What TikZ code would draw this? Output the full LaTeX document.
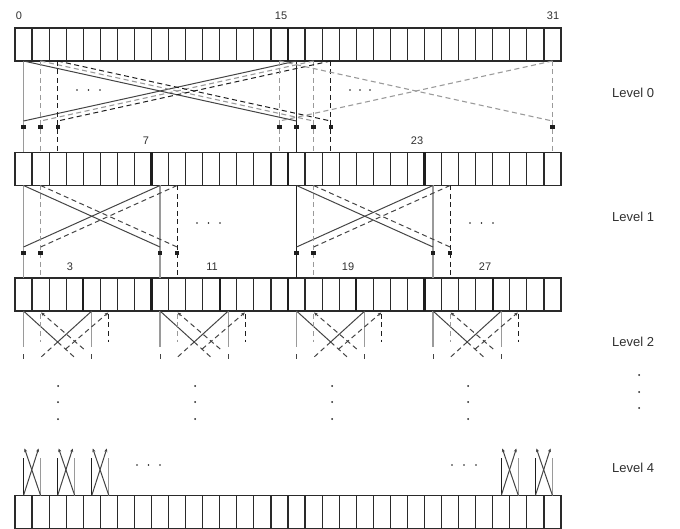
\documentclass[tikz,border=0pt]{standalone}
\usepackage{fontspec}
\setmainfont{Liberation Sans}
\usetikzlibrary{arrows.meta,calc}
\definecolor{boxc}{HTML}{2A2A2A}
\definecolor{lg}{HTML}{9A9A9A}
\definecolor{dk}{HTML}{1E1E1E}
\definecolor{md}{HTML}{444444}
\definecolor{txt}{HTML}{303030}
\begin{document}
\begin{tikzpicture}[x=1pt,y=-1pt,
  cell/.style={draw=boxc,line width=1.2pt,minimum width=17.0625pt,minimum height=33pt,inner sep=0pt,outer sep=0pt},
  sepline/.style={draw=dk,line width=2.4pt},
  sg/.style={draw=lg,line width=1.1pt},
  sb/.style={draw=dk,line width=1.1pt},
  sd/.style={draw=md,line width=1pt},
  gd/.style={draw=lg,line width=1.1pt,dash pattern=on 5pt off 3.5pt},
  bd/.style={draw=dk,line width=1pt,dash pattern=on 5pt off 3.5pt},
  dd/.style={draw=md,line width=1pt,dash pattern=on 5pt off 3.5pt},
  sq/.style={fill=dk,rectangle,minimum size=4.2pt,inner sep=0pt},
  tipa/.style={-{Stealth[length=3.6pt,width=3.2pt]}},
  num/.style={text=txt,font=\fontsize{11}{13}\selectfont,inner sep=0pt},
  lvl/.style={text=txt,font=\fontsize{13}{15}\selectfont,inner sep=0pt,anchor=west},
  dot/.style={fill=dk}
]
\useasboundingbox (0,0) rectangle (680,529);

% ---------- arrays ----------
\foreach \r/\yy in {1/44.5,2/169,3/294.5,4/512}{
  \foreach \i in {0,...,31}{
    \node[cell] (r\r-\i) at ({15+(\i+0.5)*17.0625},\yy) {};
  }
}
\draw[sepline] (r1-15.north east) -- (r1-15.south east);
\foreach \i in {7,15,23}{\draw[sepline] (r2-\i.north east) -- (r2-\i.south east);}
\foreach \i in {3,7,11,15,19,23,27}{\draw[sepline] (r3-\i.north east) -- (r3-\i.south east);}

% ---------- labels ----------
\node[num] (n0)  at (19,16) {0};
\node[num] (n15) at (281,16) {15};
\node[num] (n31) at (553,16) {31};
\node[num] (n7)  at (146,141) {7};
\node[num] (n23) at (417,141) {23};
\node[num] (n3)  at (70,267) {3};
\node[num] (n11) at (212,267) {11};
\node[num] (n19) at (348,267) {19};
\node[num] (n27) at (485,267) {27};
\node[lvl] (lv0) at (612,93) {Level 0};
\node[lvl] (lv1) at (612,217) {Level 1};
\node[lvl] (lv2) at (612,342) {Level 2};
\node[lvl] (lv4) at (612,468) {Level 4};

% helper y levels
\coordinate (E0) at (0,121);
\coordinate (S0) at (0,127);
\coordinate (E1) at (0,247);
\coordinate (S1) at (0,253);

% ---------- level 0 ----------
\draw[sg] (r1-0.south) -- (r2-0.north);
\draw[sb] (r1-16.south) -- (r2-16.north);
\draw[sd] (r1-0.south) -- (r1-16.south |- E0);
\draw[sd] (r1-16.south) -- (r1-0.south |- E0);
\draw[gd] (r1-1.south) -- (r2-1.north);
\draw[gd] (r1-17.south) -- (r2-17.north);
\draw[gd] (r1-1.south) -- (r1-17.south |- E0);
\draw[gd] (r1-17.south) -- (r1-1.south |- E0);
\draw[bd] (r1-2.south) -- (r2-2.north);
\draw[bd] (r1-18.south) -- (r2-18.north);
\draw[bd] (r1-2.south) -- (r1-18.south |- E0);
\draw[bd] (r1-18.south) -- (r1-2.south |- E0);
\draw[gd] (r1-15.south) -- (r2-15.north);
\draw[gd] (r1-31.south) -- (r2-31.north);
\draw[gd] (r1-15.south) -- (r1-31.south |- E0);
\draw[gd] (r1-31.south) -- (r1-15.south |- E0);
\foreach \i in {0,1,2,15,16,17,18,31}{\node[sq] (q0-\i) at (r1-\i.south |- S0) {};}
\foreach \x in {77,88.5,100,350,360,370}{\fill[dot] (\x,90) circle (0.9pt);}

% ---------- level 1 ----------
\draw[sg] (r2-0.south) -- (r3-0.north);
\draw[sg] (r2-8.south) -- (r3-8.north);
\draw[sd] (r2-0.south) -- (r2-8.south |- E1);
\draw[sd] (r2-8.south) -- (r2-0.south |- E1);
\draw[gd] (r2-1.south) -- (r3-1.north);
\draw[bd] (r2-9.south) -- (r3-9.north);
\draw[dd] (r2-1.south) -- (r2-9.south |- E1);
\draw[dd] (r2-9.south) -- (r2-1.south |- E1);
\draw[sb] (r2-16.south) -- (r3-16.north);
\draw[sg] (r2-24.south) -- (r3-24.north);
\draw[sd] (r2-16.south) -- (r2-24.south |- E1);
\draw[sd] (r2-24.south) -- (r2-16.south |- E1);
\draw[gd] (r2-17.south) -- (r3-17.north);
\draw[bd] (r2-25.south) -- (r3-25.north);
\draw[dd] (r2-17.south) -- (r2-25.south |- E1);
\draw[dd] (r2-25.south) -- (r2-17.south |- E1);
\foreach \i in {0,1,8,9,16,17,24,25}{\node[sq] (q1-\i) at (r2-\i.south |- S1) {};}
\foreach \x in {197,208.5,220,470,481.5,493}{\fill[dot] (\x,223) circle (0.9pt);}

% ---------- level 2 ----------
\foreach \g in {0,8,16,24}{
  \pgfmathtruncatemacro\ga{\g+1}
  \pgfmathtruncatemacro\gb{\g+4}
  \pgfmathtruncatemacro\gc{\g+5}
  \coordinate (c\g) at ($($(r3-\g.south)!0.5!(r3-\gb.south)$)+(0,31)$);
  \coordinate (d\g) at ($($(r3-\ga.south)!0.5!(r3-\gc.south)$)+(0,30)$);
  \draw[sg] (r3-\g.south) -- ++(0,36);
  \draw[sg] (r3-\gb.south) -- ++(0,36);
  \draw[dd] ($(r3-\g.south)+(0,43)$) -- ++(0,8);
  \draw[dd] ($(r3-\gb.south)+(0,43)$) -- ++(0,8);
  \draw[sd] (r3-\g.south) -- (c\g) -- (r3-\gb.south);
  \draw[dd] (c\g) -- ++(16.5,15);
  \draw[dd] (c\g) -- ++(-16.5,15);
  \draw[gd] ($(r3-\ga.south)+(0,3)$) -- ++(0,28);
  \draw[bd] ($(r3-\gc.south)+(0,3)$) -- ++(0,28);
  \draw[dd,tipa] ($(d\g)+(9,8)$) -- ($(r3-\ga.south)+(0.5,1.5)$);
  \draw[dd,tipa] ($(d\g)+(-9,8)$) -- ($(r3-\gc.south)+(-0.5,1.5)$);
}

% vertical ellipses
\foreach \x in {58,195,332,468}{
  \foreach \y in {386,402,419}{\fill[dot] (\x,\y) circle (1pt);}
}
\foreach \y in {375,392,408}{\fill[dot] (639,\y) circle (1pt);}

% ---------- level 4 ----------
\foreach \a in {0,2,4,28,30}{
  \pgfmathtruncatemacro\b{\a+1}
  \draw[sb] (r4-\a.north) -- ++(0,-38);
  \draw[sg] (r4-\b.north) -- ++(0,-38);
  \draw[sd,tipa] (r4-\a.north) -- ($(r4-\b.north)+(-2,-47)$);
  \draw[sd,tipa] (r4-\b.north) -- ($(r4-\a.north)+(1,-47)$);
}
\foreach \x in {137,148.5,160,452,464,476}{\fill[dot] (\x,465) circle (0.9pt);}
\end{tikzpicture}
\end{document}
